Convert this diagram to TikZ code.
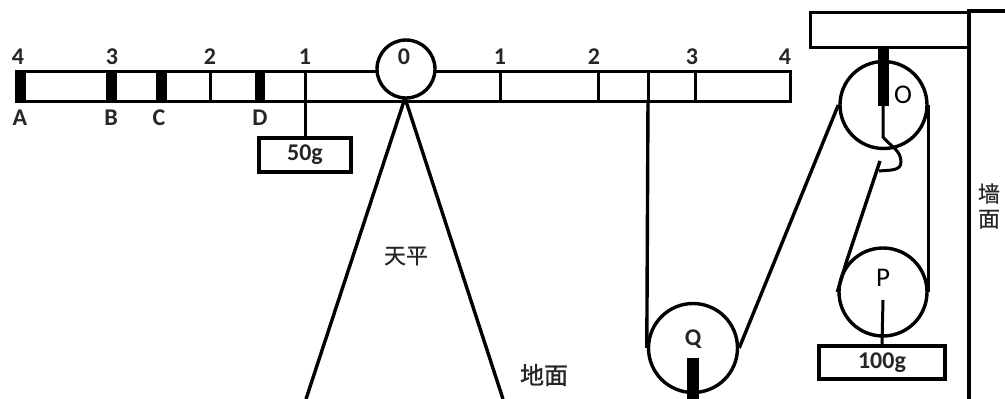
\documentclass[tikz,border=0pt]{standalone}
\usepackage{fontspec}
\setmainfont{Carlito}
\newfontfamily\cjk[FakeBold=0.6]{Noto Sans CJK SC}
\newfontfamily\cjkm[FakeBold=1.2]{Noto Sans CJK SC}
\tikzset{
  x=1pt,y=-1pt,
  ln/.style={line width=3.4pt,draw=black},
  thin ln/.style={line width=3pt,draw=black},
  bar/.style={fill=black,draw=none},
  lab/.style={font=\fontsize{24}{24}\selectfont\bfseries,inner sep=0pt,text=black!85},
  slab/.style={font=\fontsize{27}{27}\selectfont,inner sep=0pt,text=black},
  cn/.style={font=\cjk\fontsize{22}{25}\selectfont,inner sep=0pt,align=center,text=black!85},
  cnb/.style={font=\cjkm\fontsize{24}{25}\selectfont,inner sep=0pt,text=black!85},
  pulley/.style={circle,draw=black,line width=3.4pt,inner sep=0pt,fill=white},
  box/.style={draw=black,line width=3.4pt,fill=white,inner sep=0pt},
}
\begin{document}
\begin{tikzpicture}[line join=miter]
\useasboundingbox (0,0) rectangle (1005,399);
% beam
\node[box,minimum width=774pt,minimum height=30pt,anchor=north west] (beam) at (15,70) {};
\foreach \n/\a/\b in {a/15/26,b/106/117,c/156/167,d/255/265}
  \fill[bar] (\a,70) rectangle (\b,100);
\foreach \x in {210,305,500,598,648,695}
  \draw[thin ln] (\x,70) -- (\x,100);
% balance stand
\coordinate (apex) at (405,98);
\coordinate (legl) at (306,399);
\coordinate (legr) at (503,399);
\draw[ln] (legl) -- (apex) -- (legr);
\node[pulley,minimum size=58pt] (zero) at (406,69) {};
% 50g
\node[box,minimum width=92pt,minimum height=34pt] (w50) at (305,155) {};
\draw[thin ln] (305,100) -- (w50.north);
\node[lab] at (305,155) {50g};
% ropes
\coordinate (ropeTop) at (648,100);
\node[pulley,minimum size=89pt] (Q) at (693,348) {};
\node[pulley,minimum size=87pt] (O) at (883.5,105) {};
\node[pulley,minimum size=88pt] (P) at (883,292) {};
\draw[ln] (ropeTop) -- (Q.west);
\draw[ln] (Q.east) -- (O.west);
\draw[ln] (O.east) -- (P.east);
\draw[ln] (P.west) -- (847,260) -- (880,161);
% fixtures
\node[box,minimum width=159pt,minimum height=35pt,anchor=north west] (mount) at (809,11) {};
\draw[ln] (969,399) -- (969,11) -- (1005,11);
\fill[bar] (878,46) rectangle (889,106);
\draw[thin ln] (883,106) -- (883,137) .. controls (890,146) and (901,150) .. (901,162) .. controls (901,171) and (890,170) .. (879,171);
\fill[bar] (687,358) rectangle (699,399);
% 100g
\node[box,minimum width=126pt,minimum height=33pt] (w100) at (882,362.5) {};
\draw[thin ln] (883,300) -- (w100.north);
\node[lab] at (882,363) {100g};
% labels
\foreach \x/\t in {18/4,112/3,210/2,305/1,404/0,500/1,594/2,692/3,785/4}
  \node[lab] at (\x,57) {\t};
\foreach \x/\t in {20/A,111/B,159/C,260/D}
  \node[lab] at (\x,118) {\t};
\node[lab] at (693,339) {Q};
\node[slab] at (903,95) {O};
\node[slab] at (883,278) {P};
\node[cn] at (406,256) {天平};
\node[cnb] at (544,375) {地面};
\node[cn] at (989,206) {墙\\面};
\end{tikzpicture}
\end{document}
